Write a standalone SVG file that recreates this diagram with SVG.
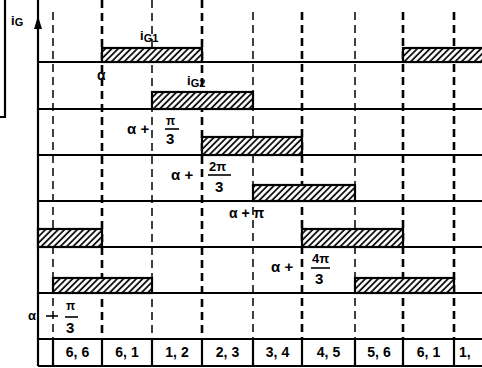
<svg xmlns="http://www.w3.org/2000/svg" width="482" height="368" viewBox="0 0 482 368">
<style>
.base{stroke:#000;stroke-width:2.2;fill:none}
.dash{stroke:#000;stroke-width:2.6;stroke-dasharray:8,5;fill:none}
.dthin{stroke:#000;stroke-width:1.5;stroke-dasharray:8,5;fill:none}
.pulse{fill:url(#hatch);stroke:#000;stroke-width:2.2}
.t{font-family:"Liberation Sans",Arial,sans-serif;font-weight:bold;fill:#000}
.frac{stroke:#000;stroke-width:1.6}
</style>
<defs>
<pattern id="hatch" width="4.5" height="4.5" patternUnits="userSpaceOnUse" patternTransform="rotate(45)">
<rect width="4.5" height="4.5" fill="#fff"/>
<line x1="1" y1="0" x2="1" y2="4.5" stroke="#000" stroke-width="1.7"/>
</pattern>
</defs>
<rect width="482" height="368" fill="#fff"/>

<g id="frame">
<path d="M5,0 V117 H0" class="base" stroke-width="1.5"/>
</g>

<g id="connectors">
<line x1="53" y1="12" x2="53" y2="339" class="dthin"/>
<line x1="102" y1="0" x2="102" y2="339" class="dash"/>
<line x1="152" y1="0" x2="152" y2="339" class="dthin"/>
<line x1="202" y1="0" x2="202" y2="339" class="dash"/>
<line x1="253" y1="12" x2="253" y2="339" class="dthin"/>
<line x1="302" y1="12" x2="302" y2="339" class="dash"/>
<line x1="355" y1="12" x2="355" y2="339" class="dthin"/>
<line x1="403" y1="12" x2="403" y2="339" class="dash"/>
<line x1="454" y1="12" x2="454" y2="339" class="dash"/>
<line x1="38" y1="62" x2="482" y2="62" class="base"/>
<line x1="38" y1="109" x2="482" y2="109" class="base"/>
<line x1="38" y1="155" x2="482" y2="155" class="base"/>
<line x1="38" y1="201" x2="482" y2="201" class="base"/>
<line x1="38" y1="247" x2="482" y2="247" class="base"/>
<line x1="38" y1="293" x2="482" y2="293" class="base"/>
<line x1="38" y1="366" x2="38" y2="0" class="base"/>
<path d="M34,29 L38,16 L42,29 Z" fill="#000"/>
</g>

<g id="pulses">
<rect x="102" y="48" width="100" height="14" class="pulse"/>
<rect x="403" y="48" width="82" height="14" class="pulse"/>
<rect x="152" y="92" width="101" height="17" class="pulse"/>
<rect x="202" y="137" width="100" height="18" class="pulse"/>
<rect x="253" y="185" width="102" height="16" class="pulse"/>
<rect x="38" y="229" width="64" height="18" class="pulse"/>
<rect x="302" y="229" width="101" height="18" class="pulse"/>
<rect x="53" y="278" width="99" height="15" class="pulse"/>
<rect x="355" y="278" width="99" height="15" class="pulse"/>
</g>

<g id="labels">
<text class="t" x="11" y="25" font-size="13">i<tspan font-size="11" dy="1">G</tspan></text>
<text class="t" x="140" y="40" font-size="13">i<tspan font-size="11" dy="2">G1</tspan></text>
<text class="t" x="187" y="85" font-size="13">i<tspan font-size="11" dy="2">G2</tspan></text>
<text class="t" x="97" y="80" font-size="14">α</text>

<text class="t" x="127" y="134" font-size="15">α +</text>
<text class="t" x="166" y="125" font-size="12">π</text>
<line x1="165" y1="129" x2="179" y2="129" class="frac"/>
<text class="t" x="166" y="144" font-size="15">3</text>

<text class="t" x="171" y="180" font-size="15">α +</text>
<text class="t" x="209" y="171" font-size="13">2π</text>
<line x1="208" y1="175" x2="231" y2="175" class="frac"/>
<text class="t" x="215" y="192" font-size="15">3</text>

<text class="t" x="229" y="218" font-size="14">α + π</text>

<text class="t" x="271" y="272" font-size="15">α +</text>
<text class="t" x="312" y="263" font-size="13">4π</text>
<line x1="311" y1="268" x2="330" y2="268" class="frac"/>
<text class="t" x="315" y="284" font-size="15">3</text>

<text class="t" x="28" y="320" font-size="13">α</text>
<line x1="46" y1="316" x2="58" y2="316" class="frac"/>
<text class="t" x="66" y="310" font-size="12">π</text>
<line x1="65" y1="317" x2="78" y2="317" class="frac"/>
<text class="t" x="66" y="333" font-size="15">3</text>
</g>

<g id="sequence">
<line x1="38" y1="339" x2="482" y2="339" class="base"/>
<line x1="38" y1="366" x2="482" y2="366" class="base"/>
<line x1="53" y1="339" x2="53" y2="366" class="base"/>
<line x1="102" y1="339" x2="102" y2="366" class="base"/>
<line x1="152" y1="339" x2="152" y2="366" class="base"/>
<line x1="202" y1="339" x2="202" y2="366" class="base"/>
<line x1="253" y1="339" x2="253" y2="366" class="base"/>
<line x1="302" y1="339" x2="302" y2="366" class="base"/>
<line x1="355" y1="339" x2="355" y2="366" class="base"/>
<line x1="403" y1="339" x2="403" y2="366" class="base"/>
<line x1="454" y1="339" x2="454" y2="366" class="base"/>
<g class="t" font-size="14" text-anchor="middle">
<text x="77.5" y="357">6, 6</text>
<text x="127" y="357">6, 1</text>
<text x="177" y="357">1, 2</text>
<text x="227.5" y="357">2, 3</text>
<text x="277.5" y="357">3, 4</text>
<text x="328.5" y="357">4, 5</text>
<text x="379" y="357">5, 6</text>
<text x="428.5" y="357">6, 1</text>
</g>
<text class="t" font-size="14" x="459" y="357">1,</text>
</g>
</svg>
